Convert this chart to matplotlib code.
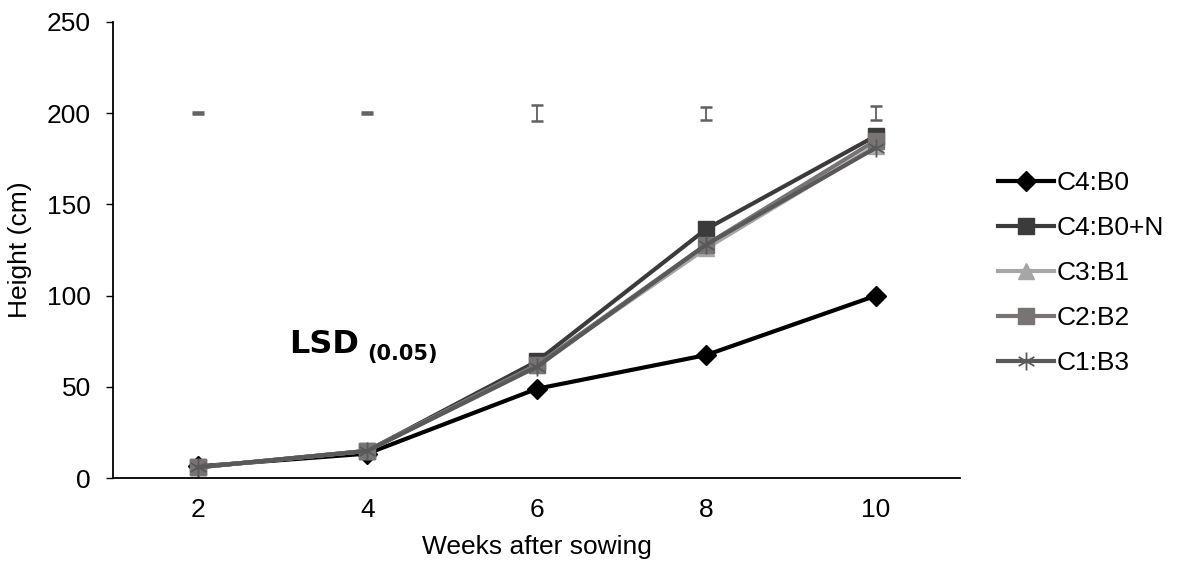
import matplotlib.pyplot as plt
from matplotlib.path import Path
import numpy as np

plt.rcParams['font.family'] = ['Liberation Sans', 'DejaVu Sans']

weeks = ['2', '4', '6', '8', '10']
c4_b0 = [6.5, 13.5, 49, 67.5, 100]
c4_b0n = [6, 15, 64, 136.5, 187.5]
c3_b1 = [6, 15, 62, 126, 182]
c2_b2 = [6, 15, 62, 128, 185]
c1_b3 = [6, 15, 61, 128, 181]
lsd = [0.5, 0.5, 4.5, 3.5, 4]
lsd_level = [200, 200, 200, 200, 200]

x = list(range(len(weeks)))

# six-armed asterisk marker
verts, codes = [], []
for a in (90, 30, 150):
    r = np.radians(a)
    verts += [(np.cos(r), np.sin(r)), (-np.cos(r), -np.sin(r))]
    codes += [Path.MOVETO, Path.LINETO]
star = Path(verts, codes)

fig = plt.figure(figsize=(11.77, 5.62), dpi=100)
ax = fig.add_axes([0.096, 0.149, 0.72, 0.812])

ax.plot(x, c4_b0, color='black', lw=3, marker='D', ms=10, label='C4:B0')
ax.plot(x, c4_b0n, color='#3b3b3b', lw=3, marker='s', ms=12, label='C4:B0+N')
ax.plot(x, c3_b1, color='#a6a6a6', lw=3, marker='^', ms=12, label='C3:B1')
ax.plot(x, c2_b2, color='#787474', lw=3, marker='s', ms=12, label='C2:B2')
ax.plot(x, c1_b3, color='#595959', lw=3, marker=star, ms=13, mew=1.3, label='C1:B3')

# LSD bars
ax.errorbar(x, lsd_level, yerr=lsd, fmt='none', ecolor='#606060', elinewidth=1.3, capsize=4.5, capthick=1.8)
ax.text(0.54, 68.5, 'LSD', fontsize=23, fontweight='bold', family=['DejaVu Sans'])
ax.text(1.0, 65, '(0.05)', fontsize=15, fontweight='bold', family=['DejaVu Sans'])

ax.set_xlim(-0.5, 4.5)
ax.set_ylim(0, 250)
ax.set_xticks(x)
ax.set_xticklabels(weeks)
ax.set_yticks([0, 50, 100, 150, 200, 250])
ax.tick_params(axis='both', labelsize=19)
ax.tick_params(axis='y', length=5, width=1, pad=11)
ax.tick_params(axis='x', length=0, pad=14)
ax.set_xlabel('Weeks after sowing', fontsize=19)
ax.set_ylabel('Height (cm)', fontsize=19)
ax.xaxis.set_label_coords(0.5, -0.125)
ax.yaxis.set_label_coords(-0.096, 0.5)
ax.spines['top'].set_visible(False)
ax.spines['right'].set_visible(False)
ax.spines['left'].set_linewidth(1.3)
ax.spines['bottom'].set_linewidth(1.3)

fig.legend(*ax.get_legend_handles_labels(), loc='center left', bbox_to_anchor=(0.848, 0.514),
           frameon=False, fontsize=19, handlelength=2.1, labelspacing=0.8,
           handletextpad=0.1, borderpad=0, borderaxespad=0, markerscale=1.0)

fig.savefig('out.png', dpi=100)
